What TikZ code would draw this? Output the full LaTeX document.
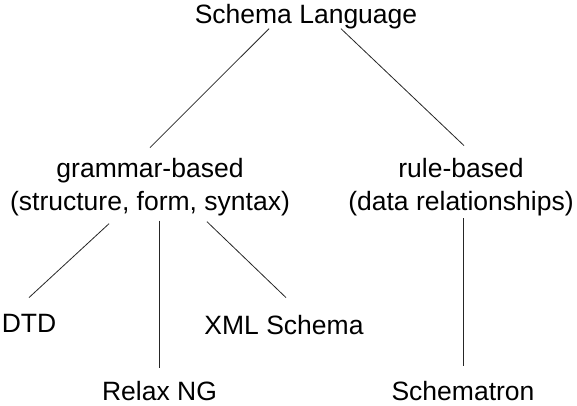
\documentclass[tikz,border=0pt]{standalone}
\usepackage{fontspec}
\setmainfont{Liberation Sans}
\usetikzlibrary{positioning}

\begin{document}
\begin{tikzpicture}[x=1pt,y=-1pt,
  lbl/.style={inner sep=0pt, font=\fontsize{26.5}{33}\selectfont, align=center, anchor=base},
  edge/.style={line width=0.8pt, black!85}]
  \useasboundingbox (0,0) rectangle (577,405);

  \node[lbl] (lang) at (306,23) {Schema Language};
  \node[lbl] (gram) at (150,210) {grammar-based\\(structure, form, syntax)};
  \node[lbl] (rule) at (461,210) {rule-based\\(data relationships)};
  \node[lbl] (dtd) at (29,332) {DTD};
  \node[lbl] (xml) at (284,334) {XML Schema};
  \node[lbl] (relax) at (159.5,400) {Relax NG};
  \node[lbl] (schematron) at (463,400) {Schematron};

  \draw[edge] ([xshift=-37pt]lang.south) -- ([yshift=10pt]gram.north);
  \draw[edge] ([xshift=35pt]lang.south) -- ([xshift=3pt,yshift=12pt]rule.north);
  \draw[edge] ([xshift=-41pt,yshift=-8pt]gram.south) -- ([yshift=16pt]dtd.north);
  \draw[edge] ([yshift=-5pt]relax.north |- gram.south) -- ([yshift=13pt]relax.north);
  \draw[edge] ([xshift=57pt,yshift=-6pt]gram.south) -- ([xshift=2pt,yshift=17pt]xml.north);
  \draw[edge] ([yshift=-2.5pt]schematron.north |- rule.south) -- ([yshift=15pt]schematron.north);

\end{tikzpicture}
\end{document}
